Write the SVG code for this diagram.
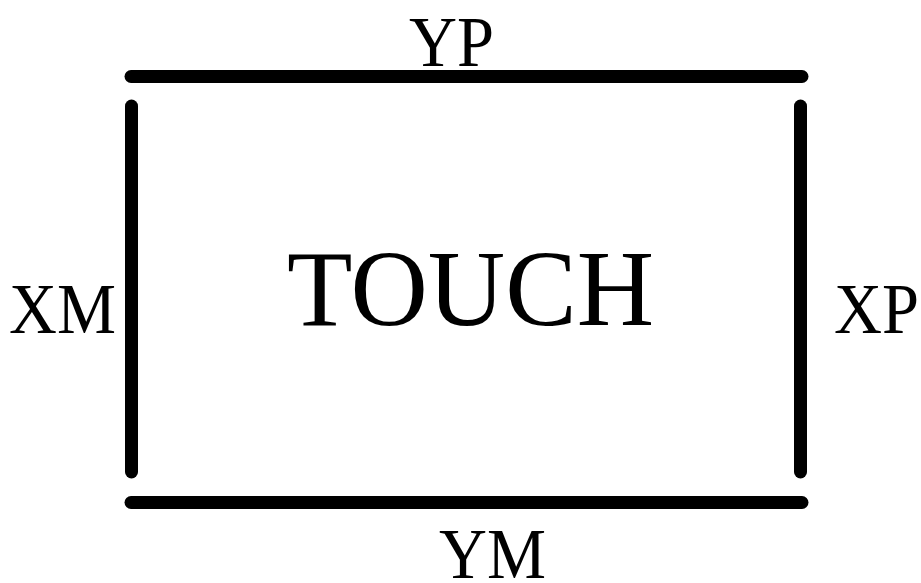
<svg xmlns="http://www.w3.org/2000/svg" width="921" height="583" viewBox="0 0 921 583">
<style>
.bar{stroke:#000;stroke-width:13;stroke-linecap:round;fill:none}
.lbl{font-family:"Liberation Serif","Times New Roman",serif;font-size:72px;fill:#000}
.big{font-family:"Liberation Serif","Times New Roman",serif;font-size:108px;fill:#000}
</style>
<rect width="921" height="583" fill="#fff"/>
<g id="connectors">
<line class="bar" x1="131" y1="76.5" x2="802" y2="76.5"/>
<line class="bar" x1="131" y1="502.5" x2="802" y2="502.5"/>
<line class="bar" x1="131.5" y1="106" x2="131.5" y2="472"/>
<line class="bar" x1="800.5" y1="106" x2="800.5" y2="472"/>
</g>
<g id="touch"><text class="big" x="287" y="325" textLength="367" lengthAdjust="spacingAndGlyphs">TOUCH</text></g>
<g id="yp"><text class="lbl" x="409" y="66" textLength="85" lengthAdjust="spacingAndGlyphs">YP</text></g>
<g id="ym"><text class="lbl" x="439" y="578" textLength="107" lengthAdjust="spacingAndGlyphs">YM</text></g>
<g id="xm"><text class="lbl" x="9" y="333" textLength="107" lengthAdjust="spacingAndGlyphs">XM</text></g>
<g id="xp"><text class="lbl" x="834" y="333" textLength="85" lengthAdjust="spacingAndGlyphs">XP</text></g>
</svg>
